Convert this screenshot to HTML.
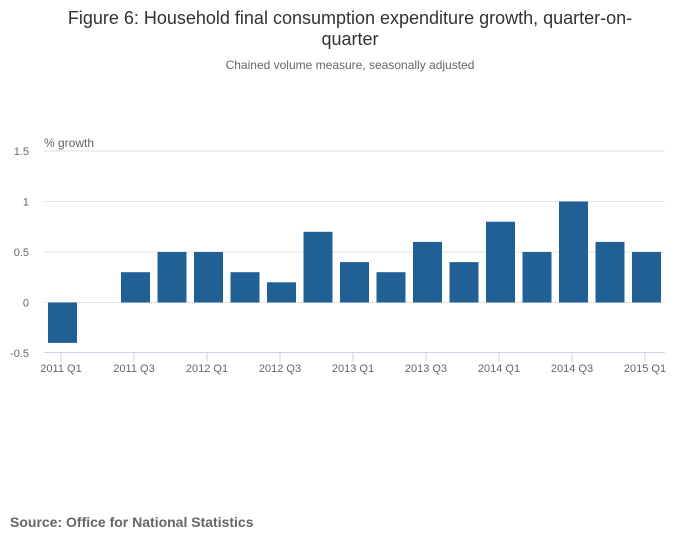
<!DOCTYPE html>
<html><head><meta charset="utf-8"><style>
body{margin:0;background:#fff;font-family:"Liberation Sans",sans-serif;}
svg text{font-family:"Liberation Sans",sans-serif;}
</style></head><body>
<svg width="700" height="549" xmlns="http://www.w3.org/2000/svg">
<text x="350" y="24" text-anchor="middle" font-size="18" fill="#333">Figure 6: Household final consumption expenditure growth, quarter-on-</text>
<text x="350" y="45" text-anchor="middle" font-size="18" fill="#333">quarter</text>
<text x="350" y="69" text-anchor="middle" font-size="12" fill="#666">Chained volume measure, seasonally adjusted</text>
<text x="44" y="147" font-size="12" fill="#666">% growth</text>
<g id="grid"></g><g id="bars"></g><g id="xaxis"></g>
<text x="10" y="527" font-size="14" font-weight="bold" fill="#666">Source: Office for National Statistics</text>
</svg>
<script>
const categories=["2011 Q1","2011 Q2","2011 Q3","2011 Q4","2012 Q1","2012 Q2","2012 Q3","2012 Q4","2013 Q1","2013 Q2","2013 Q3","2013 Q4","2014 Q1","2014 Q2","2014 Q3","2014 Q4","2015 Q1"];
const values=[-0.4,0,0.3,0.5,0.5,0.3,0.2,0.7,0.4,0.3,0.6,0.4,0.8,0.5,1.0,0.6,0.5];
const yTicks=[1.5,1,0.5,0,-0.5];
const yTickLabels=["1.5","1","0.5","0","-0.5"];
const NS="http://www.w3.org/2000/svg";
const y=v=>302.5-v*101;
const x=i=>62.5+i*36.5;
const bw=29;
const grid=document.getElementById('grid'),bars=document.getElementById('bars'),xa=document.getElementById('xaxis');
function mk(t,a,p){const e=document.createElementNS(NS,t);for(const k in a)e.setAttribute(k,a[k]);p.appendChild(e);return e;}
yTicks.forEach((v,i)=>{
  if(v>-0.5){const l=mk('line',{x1:44,x2:665,y1:y(v),y2:y(v),stroke:'#e2e2e2','stroke-width':1},grid);
  
  }
  const t=mk('text',{x:29,y:y(v)+4,'text-anchor':'end','font-size':11,fill:'#666'},grid);
  t.textContent=yTickLabels[i];
  
  
});
values.forEach((v,i)=>{
  const r=mk('rect',{x:x(i)-bw/2,y:Math.min(y(v),y(0)),width:bw,height:Math.abs(y(v)-y(0)),fill:'#206095'},bars);
  
  
});
const ax=mk('line',{x1:44,x2:665,y1:352.5,y2:352.5,stroke:'#ccd6eb','stroke-width':1},xa);


categories.forEach((c,i)=>{
  if(i%2)return;
  const tk=mk('line',{x1:x(i)-1.5,x2:x(i)-1.5,y1:352.5,y2:362,stroke:'#ccd6eb','stroke-width':1},xa);
  
  
  const t=mk('text',{x:x(i)-1.5,y:372,'text-anchor':'middle','font-size':11,fill:'#666'},xa);
  t.textContent=c;
  
  
});
</script>
</body></html>
